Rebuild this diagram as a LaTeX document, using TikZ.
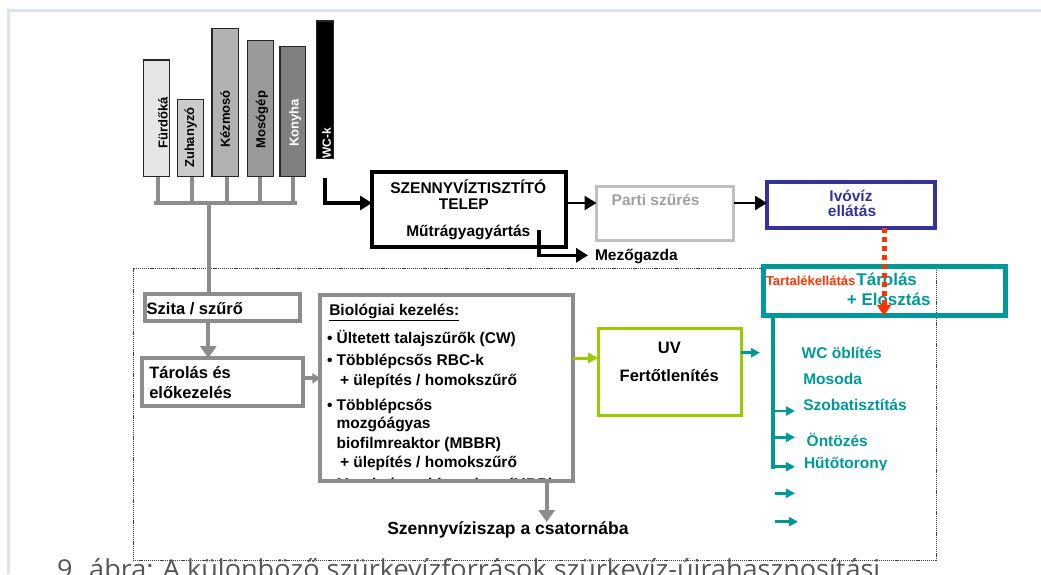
\documentclass[tikz,border=0pt]{standalone}
\usepackage{fontspec}
\usepackage{graphicx}
\setmainfont{Liberation Sans}
\newfontfamily\capfont{Open Sans}
\usetikzlibrary{arrows.meta}

\definecolor{framec}{HTML}{DCE4EE}
\definecolor{pipec}{HTML}{8C8C8C}
\definecolor{navyc}{HTML}{333399}
\definecolor{tealc}{HTML}{009999}
\definecolor{limec}{HTML}{99CC00}
\definecolor{redc}{HTML}{FF3300}
\definecolor{partic}{HTML}{C0C0C0}
\definecolor{partitxt}{HTML}{A0A0A0}
\definecolor{capc}{HTML}{555555}

\begin{document}
\begin{tikzpicture}[x=1pt,y=-1pt,
  fsz/.style={font=\bfseries\fontsize{#1}{#1}\selectfont, text height={0.716*#1}, text depth=0pt, inner sep=0pt, outer sep=0pt},
  bar/.style={draw=black!85, line width=1.2pt, inner sep=0pt, outer sep=0pt},
  box/.style={inner sep=0pt, outer sep=0pt},
  pipe/.style={draw=pipec, line width=4pt},
  gtip/.style={-{Triangle[length=12pt,width=16pt]}},
  blk/.style={draw=black, line width=3.5pt},
  btip/.style={-{Triangle[length=12pt,width=14pt]}},
  tarrow/.style={draw=tealc, line width=2.5pt, -{Triangle[length=9pt,width=9pt]}},
]
\useasboundingbox (0,0) rectangle (1041,574);
\clip (0,0) rectangle (1041,574);

% page frame
\draw[framec, line width=2.5pt] (8.7,574) -- (8.7,10.7) -- (1041,10.7);

% dotted zone of the decentralised system
\node[box, draw=black!75, line width=0.8pt, dash pattern=on 1.2pt off 0.9pt,
      minimum width=803, minimum height=292] (zone) at (534.5,414) {};

% ---------- greywater sources ----------
\node[bar, fill=black!10, minimum width=26, minimum height=116.7] (bfur) at (156.3,118.35) {};
\node[bar, fill=black!20, minimum width=26, minimum height=77.4] (bzuh) at (190.3,138) {};
\node[bar, fill=black!30, minimum width=26.3, minimum height=148.4] (bkez) at (225.2,102.5) {};
\node[bar, fill=black!40, minimum width=26, minimum height=136] (bmos) at (260.3,108.7) {};
\node[bar, fill=black!50, minimum width=25.7, minimum height=130] (bkon) at (292.9,111.7) {};
\node[bar, fill=black, minimum width=16.6, minimum height=137.3] (bwc) at (325,89.7) {};

\node[fsz=13, rotate=90] (tfur) at (163,123) {Fürdőká};
\node[fsz=13, rotate=90] (tzuh) at (189.5,137.5) {Zuhanyzó};
\node[fsz=13, rotate=90] (tkez) at (225.2,119) {Kézmosó};
\node[fsz=13, rotate=90] (tmos) at (260.8,119.5) {Mosógép};
\node[fsz=13, rotate=90, white] (tkon) at (294,123) {Konyha};
\node[fsz=12, rotate=90, white] (twc) at (326.5,143) {WC-k};

% collector pipes
\coordinate (j1) at (158.3,203);
\coordinate (j2) at (191.7,203);
\coordinate (j3) at (226.7,203);
\coordinate (j4) at (260,203);
\coordinate (j5) at (293.3,203);
\coordinate (hl) at (156.3,203);
\coordinate (hr) at (295.3,203);
\coordinate (hm) at (209,203);
\draw[pipe] (j1 |- bfur.south) -- (j1);
\draw[pipe] (j2 |- bzuh.south) -- (j2);
\draw[pipe] (j3 |- bkez.south) -- (j3);
\draw[pipe] (j4 |- bmos.south) -- (j4);
\draw[pipe] (j5 |- bkon.south) -- (j5);
\draw[pipe, line cap=rect] (hl) -- (hr);

% ---------- central treatment ----------
\node[box, draw=black, line width=3.5pt, minimum width=194, minimum height=75] (stp) at (469,209.5) {};
\node[fsz=15.5] (stp1) at (468.3,187.5) {SZENNYVÍZTISZTÍTÓ};
\node[fsz=15.5] (stp2) at (463.8,203.8) {TELEP};
\node[fsz=15.5] (stp3) at (468.3,231) {Műtrágyagyártás};

\node[box, draw=partic, line width=3pt, minimum width=137, minimum height=54] (parti) at (665,213.5) {};
\node[fsz=15.5, anchor=west, partitxt] (partit) at (611.7,200) {Parti szűrés};

\node[box, draw=navyc, line width=4pt, minimum width=168, minimum height=46] (ivo) at (851,205) {};
\node[fsz=15.5, navyc] (ivo1) at (851,195.7) {Ivóvíz};
\node[fsz=15.5, navyc] (ivo2) at (852,211) {ellátás};

\node[fsz=15.5, anchor=west] (mezo) at (595,255.3) {Mezőgazda};

% WC line into the plant
\coordinate (wc0) at (325,178);
\coordinate (wc1) at (325,203);
\draw[blk, btip] (wc0) -- (wc1) -- (wc1 -| stp.west);
\coordinate (py) at (0,203);
\draw[blk, line width=2.5pt, btip] (stp.east |- py) -- (parti.west |- py);
\draw[blk, line width=2.5pt, btip] (parti.east |- py) -- (ivo.west |- py);
\coordinate (mz) at (539,230);
\draw[blk, btip, shorten >=7pt] (mz) -- (mz |- mezo.west) -- (mezo.west);

% ---------- decentralised treatment ----------
\node[box, draw=pipec, line width=4pt, minimum width=155, minimum height=27.6] (szita) at (222.2,307.5) {};
\node[fsz=16.5, anchor=west] (szitat) at (146.7,308.3) {Szita / szűrő};

\node[box, draw=pipec, line width=4pt, minimum width=161, minimum height=48.3] (tarel) at (222.5,382.2) {};
\node[fsz=16.5, anchor=west] (tarel1) at (149.3,372.5) {Tárolás és};
\node[fsz=16.5, anchor=west] (tarel2) at (149.3,392.5) {előkezelés};

\draw[pipe] (hm) -- (hm |- szita.north);
\coordinate (sa) at (208.3,0);
\draw[pipe, gtip] (sa |- szita.south) -- (sa |- tarel.north);

% biological treatment box with its list
\node[box, minimum width=252.7, minimum height=186] (bio) at (446.7,388.3) {};
\begin{scope}
  \clip (320.3,295.3) rectangle (573,481.3);
  \node[fsz=15.5, anchor=west] (bio0) at (329.3,310) {\underline{Biológiai kezelés:}};
  \node[fsz=15.5, anchor=west] (bio1) at (327,337.5) {• Ültetett talajszűrők (CW)};
  \node[fsz=15.5, anchor=west] (bio2) at (327,360) {• Többlépcsős RBC-k};
  \node[fsz=15.5, anchor=west] (bio3) at (340,379.5) {+ ülepítés / homokszűrő};
  \node[fsz=15.5, anchor=west] (bio4) at (327,405) {• Többlépcsős};
  \node[fsz=15.5, anchor=west] (bio5) at (336.7,422.5) {mozgóágyas};
  \node[fsz=15.5, anchor=west] (bio6) at (336.7,443.3) {biofilmreaktor (MBBR)};
  \node[fsz=15.5, anchor=west] (bio7) at (340,461.7) {+ ülepítés / homokszűrő};
  \node[fsz=15.5, anchor=west] (bio8) at (327,483.5) {• Membrános bioreaktor (MBR)};
\end{scope}
\draw[pipec, line width=4pt] (bio.south west) rectangle (bio.north east);

\coordinate (ta) at (0,378.3);
\draw[draw=pipec, line width=4pt, -{Triangle[length=8pt,width=10pt]}] (tarel.east |- ta) -- (bio.west |- ta);

\node[fsz=17.5, anchor=west] (iszap) at (387.3,528.3) {Szennyvíziszap a csatornába};
\coordinate (ba) at (546.7,0);
\draw[pipe, gtip] (ba |- bio.south) -- (ba |- iszap.north);

% UV disinfection
\node[box, draw=limec, line width=3pt, minimum width=143, minimum height=87] (uv) at (669.7,371.7) {};
\node[fsz=16.5] (uv1) at (669.3,347.5) {UV};
\node[fsz=16.5] (uv2) at (669.2,375.8) {Fertőtlenítés};
\coordinate (ga) at (0,358);
\draw[draw=limec, line width=3pt, -{Triangle[length=10pt,width=10pt]}] (bio.east |- ga) -- (uv.west |- ga);

% storage and distribution
\node[box, draw=tealc, line width=5pt, minimum width=242.6, minimum height=49] (tar) at (884.5,291.3) {};
\node[fsz=17, tealc] (tar1) at (886.7,279.5) {Tárolás};
\node[fsz=17, tealc] (tar2) at (888.7,299.2) {+ Elosztás};
\node[fsz=13, anchor=west, redc] (tartal) at (766,280.5) {Tartalékellátás};

\coordinate (ua) at (760,352.7);
\draw[tarrow] (uv.east |- ua) -- (ua);

\coordinate (vt) at (773.3,469.3);
\draw[tealc, line width=4pt] (vt |- tar.south) -- (vt);
\coordinate (u1) at (795,411);
\coordinate (u2) at (795,437.3);
\coordinate (u3) at (795,466.7);
\draw[tarrow] (vt |- u1) -- (u1);
\draw[tarrow] (vt |- u2) -- (u2);
\draw[tarrow] (vt |- u3) -- (u3);
\coordinate (s1a) at (775,493.3);
\coordinate (s1b) at (795,493.3);
\coordinate (s2a) at (775,521.7);
\coordinate (s2b) at (798,521.7);
\draw[tarrow] (s1a) -- (s1b);
\draw[tarrow] (s2a) -- (s2b);

\node[fsz=15.5, anchor=west, tealc] (use1) at (801.7,352.8) {WC öblítés};
\node[fsz=15.5, anchor=west, tealc] (use2) at (803.3,378.8) {Mosoda};
\node[fsz=15.5, anchor=west, tealc] (use3) at (803.3,405.2) {Szobatisztítás};
\node[fsz=15.5, anchor=west, tealc] (use4) at (806.7,441.3) {Öntözés};
\begin{scope}
  \clip (790,440) rectangle (940,469.5);
  \node[fsz=15.5, anchor=west, tealc] (use5) at (804,462.8) {Hűtőtorony};
\end{scope}

% backup supply from drinking water
\coordinate (rx) at (884,0);
\draw[redc, line width=5pt, dash pattern=on 5pt off 4pt, -{Triangle[length=11pt,width=14pt]}]
  (ivo.south -| rx) -- (tar.south -| rx);

% caption
\node[anchor=base west, inner sep=0pt, text=capc] (cap) at (57,578)
  {\resizebox{823pt}{\height}{\capfont\fontsize{26}{26}\selectfont 9. ábra: A különböző szürkevízforrások szürkevíz-újrahasznosítási}};
\end{tikzpicture}
\end{document}
